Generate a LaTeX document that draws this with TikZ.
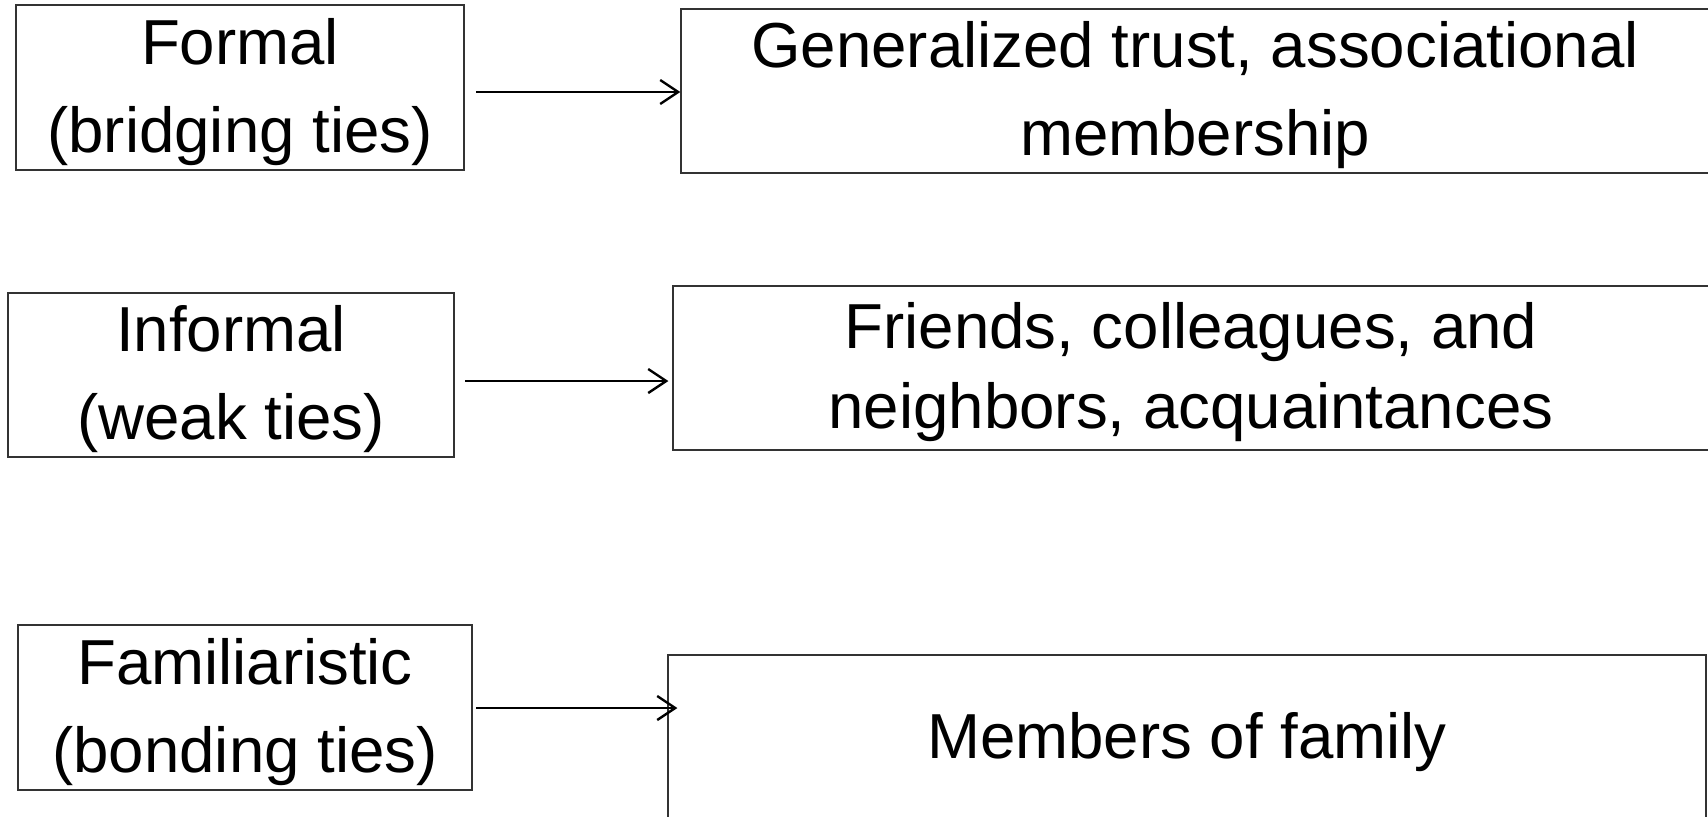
\documentclass[tikz,border=0pt]{standalone}
\usepackage{fontspec}
\setmainfont{Liberation Sans}
\usepackage{tikz}
\usetikzlibrary{arrows.meta}

\newcommand{\boxfont}{\fontsize{31.8}{44}\selectfont}

\begin{document}
\begin{tikzpicture}[x=0.5pt, y=-0.5pt,
    tiebox/.style={draw=black!80, line width=0.65pt, inner sep=0pt},
    tietext/.style={font=\boxfont, align=center, inner sep=0pt, yshift=-2.2pt},
    tiearrow/.style={line width=1.2pt, -{Straight Barb[length=9pt,width=12pt,line width=1.2pt]}}]
      \useasboundingbox (0,0) rectangle (1708,816);
      \clip (0,0) rectangle (1708,816);

      \node[tiebox, minimum width=224pt, minimum height=82.5pt,
        label={[tietext]center:Formal\\(bridging ties)}] (formal) at (240,87.5) {};
      \node[tiebox, minimum width=223pt, minimum height=82pt,
        label={[tietext]center:Informal\\(weak ties)}] (informal) at (231,375) {};
      \node[tiebox, minimum width=227pt, minimum height=82.5pt,
        label={[tietext]center:Familiaristic\\(bonding ties)}] (familiar) at (245,707.5) {};

      \node[tiebox, minimum width=514pt, minimum height=82pt,
        label={[tietext]center:Generalized trust, associational\\membership}] (trust) at (1195,91) {};
      \node[tiebox, minimum width=518pt, minimum height=82pt,
        label={[tietext, font=\fontsize{31.8}{40}\selectfont, yshift=0.2pt]center:Friends, colleagues, and\\neighbors, acquaintances}] (friends) at (1191,368) {};
      \node[tiebox, minimum width=519pt, minimum height=82pt,
        label={[tietext, yshift=-0.4pt]center:Members of family}] (family) at (1187,737) {};

      \coordinate (a1) at (476,92);
      \coordinate (a2) at (465,381);
      \coordinate (a3) at (476,708);

      \draw[tiearrow] (a1) to (a1 -| trust.west);
      \draw[tiearrow] (a2) to ([xshift=-2pt]a2 -| friends.west);
      \draw[tiearrow] (a3) to ([xshift=5pt]a3 -| family.west);
    \end{tikzpicture}
\end{document}
